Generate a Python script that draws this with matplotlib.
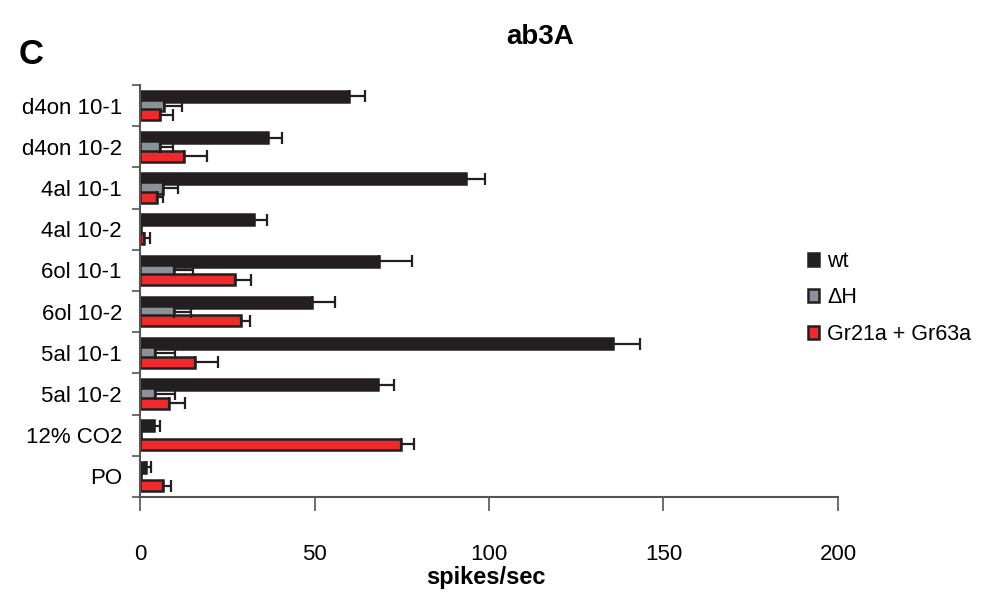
import numpy as np
import matplotlib.pyplot as plt

plt.rcParams['font.family'] = ['Liberation Sans', 'DejaVu Sans']

# odorants, top to bottom
odors = ['d4on 10-1', 'd4on 10-2', '4al 10-1', '4al 10-2', '6ol 10-1',
         '6ol 10-2', '5al 10-1', '5al 10-2', '12% CO2', 'PO']

# mean responses (spikes/sec) and SEM
wt = [59.8, 36.7, 93.3, 32.7, 68.4, 49.4, 135.6, 68.2, 3.9, 1.7]
wt_err = [4.8, 4.0, 5.5, 3.8, 9.4, 6.5, 7.8, 4.6, 1.8, 1.3]
dH = [7.0, 5.6, 6.7, 0.3, 9.7, 9.7, 4.4, 4.4, 0.3, 0.2]
dH_err = [5.0, 3.9, 4.3, 0.0, 5.5, 4.8, 5.5, 5.5, 0.0, 0.0]
gr = [5.8, 12.5, 4.8, 1.2, 27.3, 28.8, 15.8, 8.4, 74.9, 6.7]
gr_err = [3.6, 6.8, 1.7, 1.7, 4.6, 2.7, 6.4, 4.6, 3.6, 2.2]

labels = ['wt', '\u0394H', 'Gr21a + Gr63a']
colors = ['#231f20', '#8a9199', '#ee2a2d']
edge = '#231f20'

fig = plt.figure(figsize=(9.89, 5.92), dpi=100)
ax = fig.add_axes([0.1416, 0.1605, 0.7057, 0.6959])

y = np.arange(len(odors))
h = 0.27
off = 0.225

# grey bars go underneath the other two
series = [(dH, dH_err, 0.0, 1), (wt, wt_err, -off, 0), (gr, gr_err, off, 2)]
handles = {}
for vals, errs, dy, k in series:
    b = ax.barh(y + dy, vals, height=h, color=colors[k], edgecolor=edge,
                linewidth=1.8, label=labels[k], zorder=2 + k * 0.1)
    ax.errorbar(vals, y + dy, xerr=[np.zeros(len(vals)), errs], fmt='none',
                ecolor=edge, elinewidth=1.6, capsize=4.3, capthick=1.6,
                zorder=2.5)
    handles[k] = b

ax.set_xlim(0, 200)
ax.set_ylim(len(odors) - 0.5, -0.5)
ax.set_xticks([0, 50, 100, 150, 200])
ax.set_yticks(y)
ax.set_yticklabels(odors)
ax.set_yticks(np.arange(len(odors) + 1) - 0.5, minor=True)
ax.tick_params(axis='y', which='major', length=0, pad=13, labelsize=16)
ax.tick_params(axis='y', which='minor', length=6, width=1.2, color='#555555')
ax.tick_params(axis='x', length=10, width=1.2, color='#555555', pad=24,
               labelsize=16)

for s in ['top', 'right']:
    ax.spines[s].set_visible(False)
for s in ['left', 'bottom']:
    ax.spines[s].set_color('#555555')
    ax.spines[s].set_linewidth(1.5)

fig.text(0.491, 0.024, 'spikes/sec', fontsize=17, fontweight='bold',
         ha='center', va='center')
fig.text(0.546, 0.937, 'ab3A', fontsize=20, fontweight='bold',
         ha='center', va='center')
fig.text(0.031, 0.908, 'C', fontsize=25, fontweight='bold',
         ha='center', va='center')

ax.legend([handles[0], handles[1], handles[2]], labels, loc='center left',
          bbox_to_anchor=(0.797, 0.497), bbox_transform=fig.transFigure,
          frameon=False, fontsize=15.5, handlelength=0.55, handleheight=0.55,
          handletextpad=0.35, labelspacing=0.72)

fig.savefig('out.png', dpi=100)
